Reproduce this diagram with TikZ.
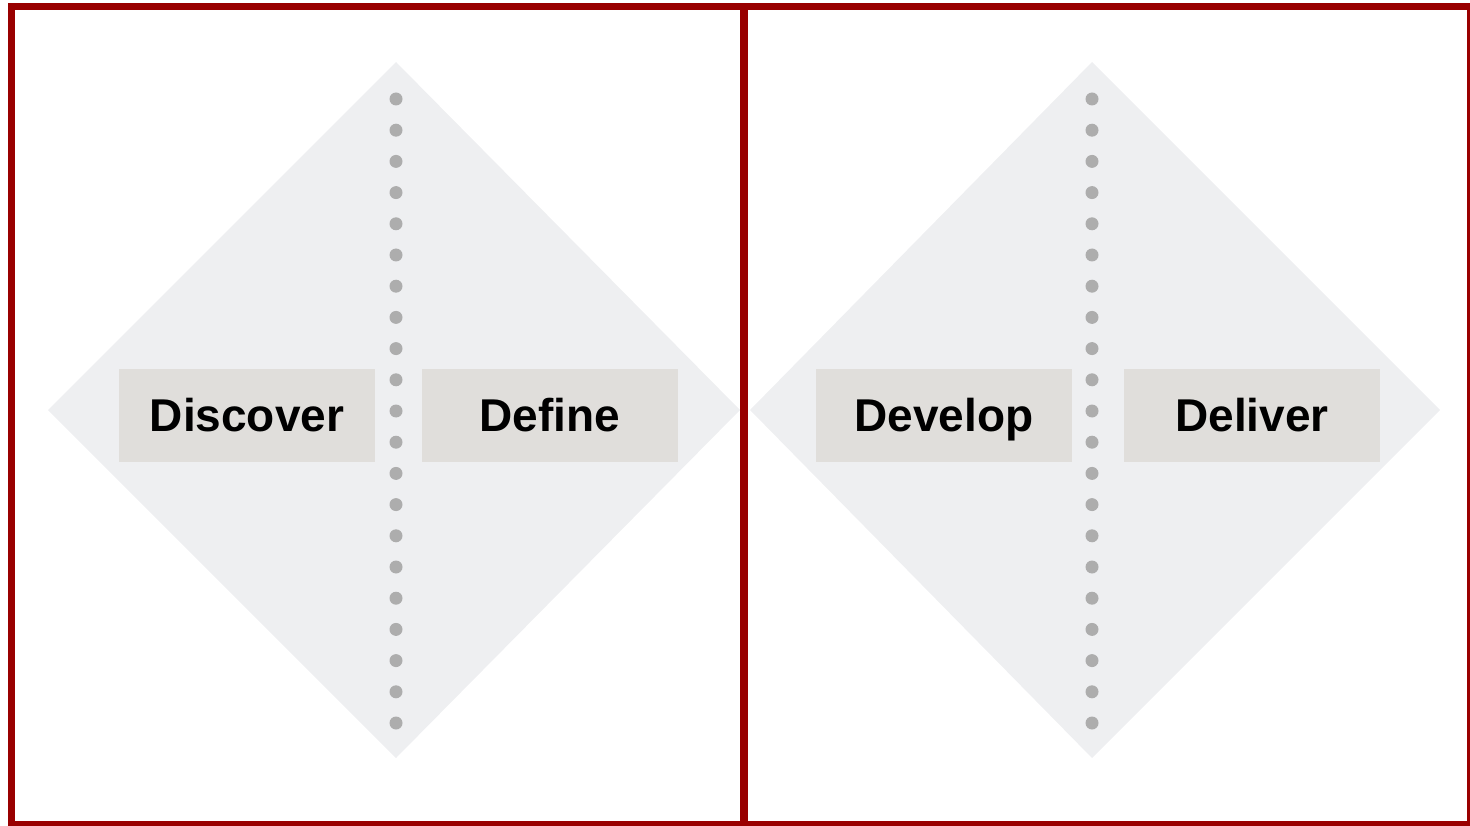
\documentclass[tikz,border=0pt]{standalone}
\usepackage{fontspec}
\setmainfont{Liberation Sans}
\definecolor{framered}{HTML}{990000}
\definecolor{diamondgrey}{HTML}{EEEFF1}
\definecolor{labelgrey}{HTML}{E0DEDB}
\definecolor{dotgrey}{HTML}{ADADAD}
\begin{document}
\begin{tikzpicture}[x=1pt,y=-1pt,
  frame/.style={draw=framered,line width=7.5pt},
  diam/.style={fill=diamondgrey},
  lbl/.style={fill=labelgrey,minimum width=256pt,minimum height=93pt,inner sep=0pt},
  lbltext/.style={font=\fontsize{46}{50}\selectfont\bfseries,anchor=base,inner sep=0pt},
  dot/.style={fill=dotgrey}]
\useasboundingbox (0,0) rectangle (1470,826);
% diamonds
\fill[diam] (48,410) -- (396,62) -- (740,410) -- (396,758) -- cycle;
\fill[diam] (750,410) -- (1092,62) -- (1440,410) -- (1092,758) -- cycle;
% dots
\foreach \i in {0,...,20} {
  \fill[dot] (396,99+31.2*\i) circle (6.5);
  \fill[dot] (1092,99+31.2*\i) circle (6.5);
}
% label boxes
\node[lbl] (discover) at (247,415.5) {};
\node[lbl] (define) at (550,415.5) {};
\node[lbl] (develop) at (944,415.5) {};
\node[lbl] (deliver) at (1252,415.5) {};
\node[lbltext] (tdiscover) at (247,431) {Discover};
\node[lbltext] (tdefine) at (550,431) {Define};
\node[lbltext] (tdevelop) at (944,431) {Develop};
\node[lbltext] (tdeliver) at (1252,431) {Deliver};
% frames
\draw[frame] (11.5,6.5) rectangle (744,825);
\draw[frame] (744,6.5) rectangle (1471,825);
\end{tikzpicture}
\end{document}
